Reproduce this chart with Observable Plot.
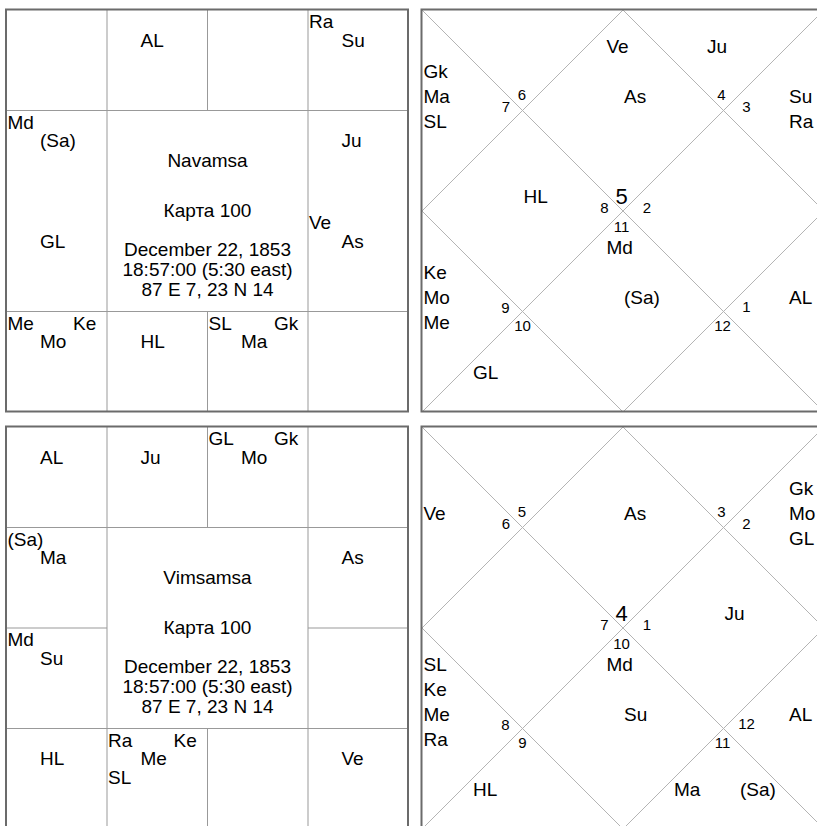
<!DOCTYPE html>
<html>
<head>
<meta charset="utf-8">
<script src="https://cdn.jsdelivr.net/npm/d3@7"></script>
<script src="https://cdn.jsdelivr.net/npm/@observablehq/plot@0.6"></script>
<style>
html, body { margin: 0; padding: 0; background: #fff; overflow: hidden; }
</style>
</head>
<body>
<div id="chart"></div>
<script>
// ---------------- DATA ----------------
// Zodiac signs 1 = Aries ... 12 = Pisces; each entry lists the points in that sign.
const navamsaTitle = "Navamsa";
const navamsaAsc = 5;
const navamsaSigns = [
  ["AL"],                 // 1
  [],                     // 2
  ["Ra", "Su"],           // 3
  ["Ju"],                 // 4
  ["Ve", "As"],           // 5
  [],                     // 6
  ["SL", "Ma", "Gk"],     // 7
  ["HL"],                 // 8
  ["Me", "Mo", "Ke"],     // 9
  ["GL"],                 // 10
  ["Md", "(Sa)"],         // 11
  []                      // 12
];

const vimsamsaTitle = "Vimsamsa";
const vimsamsaAsc = 4;
const vimsamsaSigns = [
  ["Ju"],                       // 1
  ["GL", "Mo", "Gk"],           // 2
  [],                           // 3
  ["As"],                       // 4
  [],                           // 5
  ["Ve"],                       // 6
  [],                           // 7
  ["Ra", "Me", "Ke", "SL"],     // 8
  ["HL"],                       // 9
  ["Md", "Su"],                 // 10
  ["(Sa)", "Ma"],               // 11
  ["AL"]                        // 12
];

const chartName = "Карта 100";
const birthLines = ["December 22, 1853", "18:57:00 (5:30 east)", "87 E 7, 23 N 14"];
const signNumbers = [1, 2, 3, 4, 5, 6, 7, 8, 9, 10, 11, 12];

// ---------------- LAYOUT ----------------
const S = 402, C = S / 4;
const FONT = "'Liberation Sans', Arial, Helvetica, sans-serif";
const SOUTH_X0 = 6, NORTH_X0 = 421.5;

const charts = [
  {title: navamsaTitle, asc: navamsaAsc, signs: navamsaSigns, sideDividers: false, y0: 9.5},
  {title: vimsamsaTitle, asc: vimsamsaAsc, signs: vimsamsaSigns, sideDividers: true, y0: 426.5}
];

// South Indian fixed sign cells (col,row)
const southCell = {12:[0,0],1:[1,0],2:[2,0],3:[3,0],4:[3,1],5:[3,2],6:[3,3],7:[2,3],8:[1,3],9:[0,3],10:[0,2],11:[0,1]};
const southColDx = [1, 33.5, 66.5];
const southRowDy = [18, 36.5, 55];
const zigzag = [[0,0],[1,1],[2,0],[0,2],[2,2],[1,2]];

// North Indian houses
const northHouse = {
  1:  {kind: "diamond", ax: 2*C, ay: C,   num: [2*C - 1.5, 2*C - 7]},
  2:  {kind: "top",     ax: C,   ay: C,   num: [C - 0.5, C - 11]},
  3:  {kind: "left",    ax: C,   ay: C,   num: [C - 16.5, C + 1.5]},
  4:  {kind: "diamond", ax: C,   ay: 2*C, num: [2*C - 18.5, 2*C + 2]},
  5:  {kind: "left",    ax: C,   ay: 3*C, num: [C - 17, 3*C + 1.5]},
  6:  {kind: "bottom",  ax: C,   ay: 3*C, num: [C, 3*C + 19]},
  7:  {kind: "diamond", ax: 2*C, ay: 3*C, num: [2*C - 1.5, 2*C + 20.5]},
  8:  {kind: "bottom",  ax: 3*C, ay: 3*C, num: [3*C - 1, 3*C + 19]},
  9:  {kind: "right",   ax: 3*C, ay: 3*C, num: [3*C + 23, 3*C + 0.5]},
  10: {kind: "diamond", ax: 3*C, ay: 2*C, num: [2*C + 24, 2*C + 2]},
  11: {kind: "right",   ax: 3*C, ay: C,   num: [3*C + 23, C + 1]},
  12: {kind: "top",     ax: 3*C, ay: C,   num: [3*C - 2, C - 11]}
};

const borders = [], gridLines = [], diagLines = [];
const planetLabels = [], centerLabels = [], numLabels = [], ascLabels = [];

for (const ch of charts) {
  // ---- South Indian panel ----
  {
    const x0 = SOUTH_X0, y0 = ch.y0;
    borders.push({x1: x0, x2: x0 + S, y1: y0, y2: y0 + S});
    for (const k of [1, 3]) {
      gridLines.push({x1: x0 + k*C, y1: y0, x2: x0 + k*C, y2: y0 + S});
      gridLines.push({x1: x0, y1: y0 + k*C, x2: x0 + S, y2: y0 + k*C});
    }
    gridLines.push({x1: x0 + 2*C, y1: y0, x2: x0 + 2*C, y2: y0 + C});
    gridLines.push({x1: x0 + 2*C, y1: y0 + 3*C, x2: x0 + 2*C, y2: y0 + S});
    if (ch.sideDividers) {
      gridLines.push({x1: x0, y1: y0 + 2*C, x2: x0 + C, y2: y0 + 2*C});
      gridLines.push({x1: x0 + 3*C, y1: y0 + 2*C, x2: x0 + S, y2: y0 + 2*C});
    }
    signNumbers.forEach(s => {
      const list = ch.signs[s - 1];
      const [col, row] = southCell[s];
      const slots = list.length === 1 ? [[1,1]] : zigzag;
      list.forEach((p, i) => {
        const [sx, sy] = slots[i];
        planetLabels.push({x: x0 + col*C + southColDx[sx], y: y0 + row*C + southRowDy[sy], text: p});
      });
    });
    const cx = x0 + S/2;
    const centerTexts = [ch.title, chartName, ...birthLines];
    const centerDy = [157, 207, 245.5, 265.5, 285.5];
    centerTexts.forEach((t, i) => centerLabels.push({x: cx, y: y0 + centerDy[i], text: t}));
  }
  // ---- North Indian panel ----
  {
    const x0 = NORTH_X0, y0 = ch.y0;
    borders.push({x1: x0, x2: x0 + S, y1: y0, y2: y0 + S});
    diagLines.push({x1: x0, y1: y0, x2: x0 + S, y2: y0 + S});
    diagLines.push({x1: x0 + S, y1: y0, x2: x0, y2: y0 + S});
    const mid = [[S/2, 0], [S, S/2], [S/2, S], [0, S/2]];
    mid.forEach((m, i) => {
      const n = mid[(i + 1) % 4];
      diagLines.push({x1: x0 + m[0], y1: y0 + m[1], x2: x0 + n[0], y2: y0 + n[1]});
    });
    for (let h = 1; h <= 12; h++) {
      const sign = signNumbers[(ch.asc - 1 + h - 1) % 12];
      const H = northHouse[h];
      const lab = {x: x0 + H.num[0], y: y0 + H.num[1], text: String(sign)};
      (h === 1 ? ascLabels : numLabels).push(lab);
      const list = ch.signs[sign - 1];
      const n = list.length;
      if (!n) continue;
      if (H.kind === "diamond") {
        const dx = [-16.5, 1, 18.5], dy = [-58, -8, 42];
        const slots = n === 1 ? [[1,1]] : zigzag;
        list.forEach((p, i) => {
          const [sx, sy] = slots[i];
          planetLabels.push({x: x0 + H.ax + dx[sx], y: y0 + H.ay + dy[sy], text: p});
        });
      } else {
        const ordered = list.slice().reverse();
        if (H.kind === "top") {
          const dx = [-16.5, 16.5, -49.5];
          ordered.forEach((p, i) => planetLabels.push({x: x0 + H.ax + dx[i], y: y0 + H.ay - 58, text: p}));
        } else if (H.kind === "bottom") {
          const dx = [-49.5, 16.5, -16.5];
          ordered.forEach((p, i) => planetLabels.push({x: x0 + H.ax + dx[i], y: y0 + H.ay + 67, text: p}));
        } else {
          const lx = H.kind === "left" ? 1.5 : S - 35;
          const first = n === 1 ? 1 : 3 - n;
          ordered.forEach((p, i) => planetLabels.push({x: x0 + lx, y: y0 + H.ay - 8 + (first + i - 1) * 25, text: p}));
        }
      }
    }
  }
}

const W = 817, Hh = 826;
const plot = Plot.plot({
  width: W,
  height: Hh,
  margin: 0,
  style: {fontFamily: FONT, background: "white", color: "black"},
  x: {domain: [0, W], range: [0, W], axis: null},
  y: {domain: [0, Hh], range: [0, Hh], axis: null},
  marks: [
    Plot.link(gridLines, {x1: "x1", y1: "y1", x2: "x2", y2: "y2", stroke: "#999", strokeWidth: 1}),
    Plot.link(diagLines, {x1: "x1", y1: "y1", x2: "x2", y2: "y2", stroke: "#b4b4b4", strokeWidth: 1}),
    Plot.rect(borders, {x1: "x1", x2: "x2", y1: "y1", y2: "y2", fill: "none", stroke: "#6b6b6b", strokeWidth: 2}),
    Plot.text(planetLabels, {x: "x", y: "y", text: "text", textAnchor: "start", lineAnchor: "bottom", fontSize: 19, fill: "black"}),
    Plot.text(centerLabels, {x: "x", y: "y", text: "text", textAnchor: "middle", lineAnchor: "bottom", fontSize: 19, fill: "black"}),
    Plot.text(numLabels, {x: "x", y: "y", text: "text", textAnchor: "middle", lineAnchor: "bottom", fontSize: 15, fill: "black"}),
    Plot.text(ascLabels, {x: "x", y: "y", text: "text", textAnchor: "middle", lineAnchor: "bottom", fontSize: 22, fill: "black"})
  ]
});
document.getElementById("chart").appendChild(plot);
</script>
</body>
</html>
